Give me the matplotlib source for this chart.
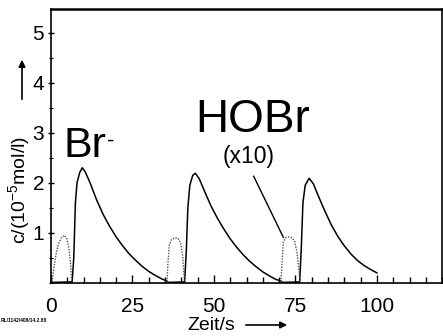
import numpy as np
import matplotlib
matplotlib.use("Agg")
import matplotlib.pyplot as plt
from matplotlib.patches import FancyArrowPatch
from matplotlib.ticker import MultipleLocator

plt.rcParams['font.family'] = ['Liberation Sans', 'DejaVu Sans']
plt.rcParams['mathtext.fontset'] = 'custom'
plt.rcParams['mathtext.rm'] = 'Liberation Sans'
plt.rcParams['mathtext.it'] = 'Liberation Sans'

# ---- data ----
# Br- (solid), three cycles
br_t = [0, 6.5, 7.0, 7.5, 8.0, 8.8, 9.6, 10.5, 12, 14, 16, 18, 20, 22, 24, 26, 28, 30, 32, 34, 35.5,
        36, 41, 41.5, 42, 42.6, 43.5, 44.3, 45.5, 47, 49, 51, 53, 55, 57, 59, 61, 63, 65, 67, 69, 70.5,
        71, 76.3, 76.8, 77.3, 78, 79.2, 80.5, 82, 84, 86, 88, 90, 92, 94, 96, 98, 100]
br_c = [0.01, 0.02, 0.5, 1.6, 2.0, 2.2, 2.3, 2.22, 2.0, 1.66, 1.37, 1.13, 0.92, 0.74, 0.58, 0.45, 0.33, 0.23, 0.15, 0.08, 0.04,
        0.01, 0.02, 0.6, 1.5, 1.95, 2.15, 2.19, 2.08, 1.85, 1.55, 1.3, 1.08, 0.88, 0.71, 0.56, 0.43, 0.32, 0.22, 0.14, 0.07, 0.04,
        0.01, 0.02, 0.7, 1.6, 1.95, 2.09, 1.98, 1.74, 1.44, 1.16, 0.93, 0.74, 0.58, 0.45, 0.35, 0.27, 0.2]

# HOBr (x10, dotted), three bumps separated by nan
hobr_t = [0.3, 0.8, 1.5, 2.3, 3.2, 4.0, 4.8, 5.5, 6.0, 6.3, 6.5, np.nan,
          35.6, 35.9, 36.3, 37, 38, 39, 39.8, 40.4, 40.8, 41, np.nan,
          70.5, 70.9, 71.3, 72, 73, 74, 74.8, 75.5, 76, 76.4]
hobr_c = [0.02, 0.25, 0.55, 0.78, 0.9, 0.95, 0.9, 0.7, 0.4, 0.1, 0.02, np.nan,
          0.02, 0.4, 0.75, 0.87, 0.9, 0.89, 0.8, 0.55, 0.15, 0.02, np.nan,
          0.02, 0.4, 0.82, 0.9, 0.92, 0.9, 0.82, 0.6, 0.3, 0.02]

x_ticks = [0, 25, 50, 75, 100]
y_ticks = [1, 2, 3, 4, 5]

fig = plt.figure(figsize=(4.43, 3.36), dpi=100)
ax = fig.add_axes([0.115, 0.158, 0.883, 0.815])

ax.plot(br_t, br_c, color='black', lw=1.1)
ax.plot(hobr_t, hobr_c, color='#555555', lw=1.0, ls=(0, (1, 1)))

ax.set_xlim(0, 120)
ax.set_ylim(0, 5.47)
ax.set_xticks(x_ticks)
ax.set_yticks(y_ticks)
ax.xaxis.set_minor_locator(MultipleLocator(5))
ax.yaxis.set_minor_locator(MultipleLocator(0.5))
ax.tick_params(axis='x', which='major', direction='in', length=6, width=1, pad=10, labelsize=15)
ax.tick_params(axis='x', which='minor', direction='in', length=4, width=1)
ax.tick_params(axis='y', which='major', direction='inout', length=4, width=1, pad=3, labelsize=15)
ax.tick_params(axis='y', which='minor', direction='inout', length=3, width=0.8)
for s in ax.spines.values():
    s.set_linewidth(1.2)
ax.spines['top'].set_linewidth(1.8)

# labels inside
ax.text(3.7, 2.52, "Br", fontsize=31, ha='left', va='baseline')
ax.text(17.3, 2.83, "-", fontsize=16, ha='left', va='center')
ax.text(44.3, 3.02, "HOBr", fontsize=33, ha='left', va='baseline')
ax.text(60.6, 2.52, "(x10)", fontsize=16.5, ha='center', va='center')
ax.plot([62.2, 71.3], [2.13, 0.91], color='black', lw=1.0)

# axis titles with arrows
fig.text(19 / 443, 1 - 190 / 336, "c/(10$^{-5}$mol/l)", rotation=90, fontsize=14,
         ha='center', va='center')
fig.text(211 / 443, 1 - 325 / 336, "Zeit/s", fontsize=14, ha='center', va='center')
fig.patches.append(FancyArrowPatch(
    (22 / 443, 1 - 102 / 336), (22 / 443, 1 - 57 / 336), transform=fig.transFigure,
    arrowstyle='-|>', mutation_scale=10, color='black', lw=1.2))
fig.patches.append(FancyArrowPatch(
    (243 / 443, 1 - 325 / 336), (290 / 443, 1 - 325 / 336), transform=fig.transFigure,
    arrowstyle='-|>', mutation_scale=10, color='black', lw=1.2))

fig.text(0.002, 1 - 321 / 336, "RL/1142/408/14.2.88", fontsize=3.5, weight='bold',
         ha='left', va='center')

fig.savefig("out.png", dpi=100)
